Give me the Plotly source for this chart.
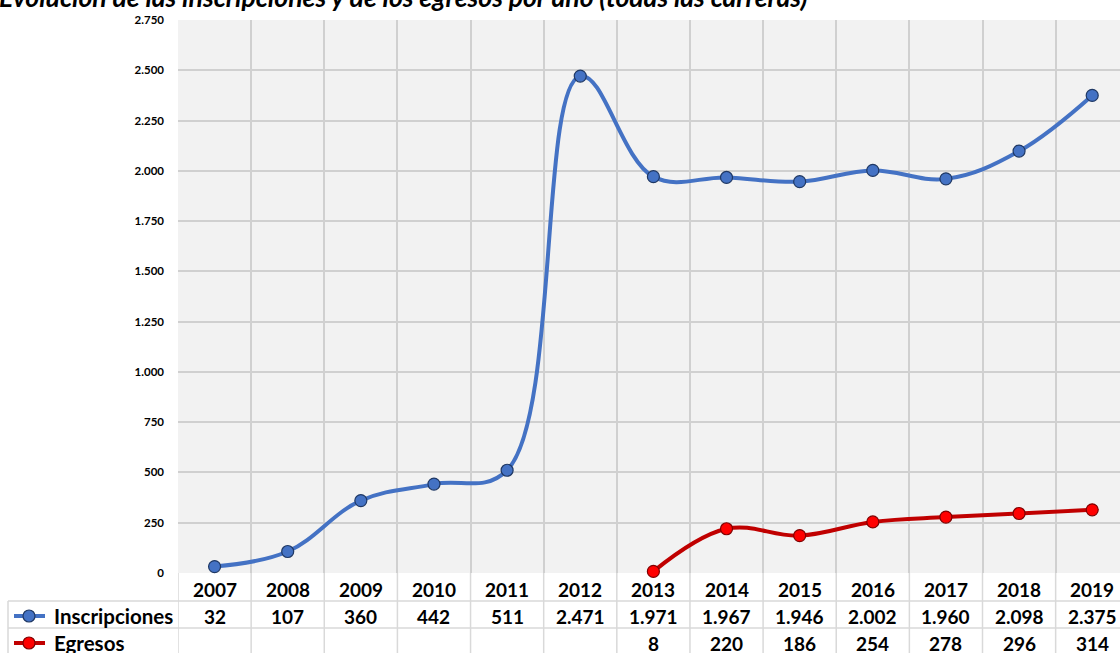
import plotly.graph_objects as go

years = ["2007", "2008", "2009", "2010", "2011", "2012", "2013", "2014", "2015", "2016", "2017", "2018", "2019"]
inscripciones = [32, 107, 360, 442, 511, 2471, 1971, 1967, 1946, 2002, 1960, 2098, 2375]
egresos = [None, None, None, None, None, None, 8, 220, 186, 254, 278, 296, 314]
ins_labels = ["32", "107", "360", "442", "511", "2.471", "1.971", "1.967", "1.946", "2.002", "1.960", "2.098", "2.375"]
egr_labels = ["", "", "", "", "", "", "8", "220", "186", "254", "278", "296", "314"]
y_ticks = [0, 250, 500, 750, 1000, 1250, 1500, 1750, 2000, 2250, 2500, 2750]
title = "Evolución de las inscripciones y de los egresos por año (todas las carreras)"

W, H = 1120, 653
L, R, T, B = 178, 0, 20, 80
PW, PH = W - L - R, H - T - B

def px_x(x):
    return (x - L) / PW

def px_y(y):
    return (T + PH - y) / PH

FONT = "Lato"
BLUE = "#4472C4"
BLUE_EDGE = "#1F3864"
RED_LINE = "#C00000"
RED_MARK = "#FF0000"
RED_EDGE = "#7F0000"

xs = list(range(len(years)))

fig = go.Figure()
fig.add_trace(go.Scatter(
    x=xs, y=inscripciones, mode="lines+markers", name="Inscripciones",
    line=dict(color=BLUE, width=4, shape="spline", smoothing=1.1),
    marker=dict(size=12, color=BLUE, line=dict(color=BLUE_EDGE, width=1.2)),
    showlegend=False, cliponaxis=False))
fig.add_trace(go.Scatter(
    x=xs, y=egresos, mode="lines+markers", name="Egresos",
    line=dict(color=RED_LINE, width=4, shape="spline", smoothing=1.1),
    marker=dict(size=12, color=RED_MARK, line=dict(color=RED_EDGE, width=1.2)),
    showlegend=False, connectgaps=False, cliponaxis=False))

shapes = []
annotations = []
GRID = "#D0D0D0"
TBL = "#D9D9D9"

row_year = px_y(589)
row_ins = px_y(616)
row_egr = px_y(643)
bottom = px_y(653)
TFONT = dict(family=FONT, size=19, color="black", weight="bold")

for i, yr in enumerate(years):
    annotations.append(dict(x=i, y=row_year, xref="x", yref="paper", text=yr, showarrow=False,
                            font=TFONT, yanchor="middle"))
    annotations.append(dict(x=i, y=row_ins, xref="x", yref="paper", text=ins_labels[i], showarrow=False,
                            font=TFONT, yanchor="middle"))
    if egr_labels[i]:
        annotations.append(dict(x=i, y=row_egr, xref="x", yref="paper", text=egr_labels[i], showarrow=False,
                                font=TFONT, yanchor="middle"))

# table vertical lines at category boundaries
for i in range(len(years) + 1):
    shapes.append(dict(type="line", xref="x", yref="paper", x0=i - 0.5, x1=i - 0.5, y0=0, y1=bottom,
                       line=dict(color=TBL, width=1.5), layer="below"))
# table horizontal lines
for yy in (601, 628):
    shapes.append(dict(type="line", xref="paper", yref="paper", x0=px_x(8), x1=1, y0=px_y(yy), y1=px_y(yy),
                       line=dict(color=TBL, width=1.5)))
# left border of header column
shapes.append(dict(type="line", xref="paper", yref="paper", x0=px_x(8), x1=px_x(8), y0=px_y(601), y1=bottom,
                   line=dict(color=TBL, width=1.5)))

# legend keys
for yy, lc, mc, ec, label in ((616, BLUE, BLUE, BLUE_EDGE, "Inscripciones"), (643, RED_LINE, RED_MARK, RED_EDGE, "Egresos")):
    shapes.append(dict(type="line", xref="paper", yref="paper", x0=px_x(14), x1=px_x(45), y0=px_y(yy), y1=px_y(yy),
                       line=dict(color=lc, width=4)))
    shapes.append(dict(type="circle", xref="paper", yref="paper", x0=px_x(23), x1=px_x(35),
                       y0=px_y(yy + 6), y1=px_y(yy - 6), fillcolor=mc, line=dict(color=ec, width=1.2)))
    annotations.append(dict(x=px_x(52), y=px_y(yy), xref="paper", yref="paper", text=label, showarrow=False,
                            xanchor="left", yanchor="middle",
                            font=dict(family=FONT, size=20.5, color="black", weight="bold")))

# title
annotations.append(dict(x=px_x(-3), y=px_y(-3), xref="paper", yref="paper", text=title, showarrow=False,
                        xanchor="left", yanchor="middle",
                        font=dict(family=FONT, size=26.5, color="black", weight="bold", style="italic")))

fig.update_layout(
    width=W, height=H,
    margin=dict(l=L, r=R, t=T, b=B, pad=0),
    paper_bgcolor="white", plot_bgcolor="#F2F2F2",
    separators=",.",
    shapes=shapes, annotations=annotations,
    xaxis=dict(range=[-0.5, 12.38], showticklabels=False, showgrid=True, gridcolor=GRID, gridwidth=1.5,
               tick0=-0.5, dtick=1, zeroline=False, showline=False, fixedrange=True),
    yaxis=dict(range=[0, 2750], tickvals=y_ticks, tickformat=",d", showgrid=True, gridcolor=GRID, gridwidth=1.5,
               zeroline=False, showline=False, ticks="", ticklabelstandoff=13,
               tickfont=dict(family=FONT, size=11.5, color="black", weight="bold")),
)

fig.write_html("out.html", config={"displayModeBar": False},
               post_script="document.body.style.margin='0';document.body.style.overflow='hidden';")
